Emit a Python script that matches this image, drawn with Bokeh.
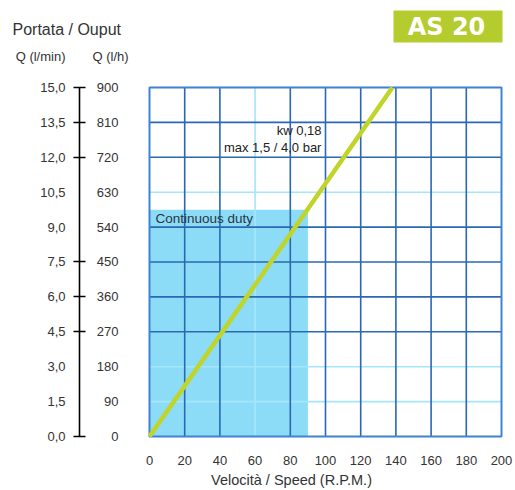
from bokeh.plotting import figure
from bokeh.models import Range1d, LinearAxis, FixedTicker
from bokeh.embed import file_html
from bokeh.resources import INLINE
from bokeh.core.properties import value

# ---------------- data ----------------
speed_ticks = [0, 20, 40, 60, 80, 100, 120, 140, 160, 180, 200]
flow_lmin_ticks = [0.0, 1.5, 3.0, 4.5, 6.0, 7.5, 9.0, 10.5, 12.0, 13.5, 15.0]
flow_lmin_labels = ["0,0", "1,5", "3,0", "4,5", "6,0", "7,5", "9,0", "10,5", "12,0", "13,5", "15,0"]
flow_lh_ticks = [0, 90, 180, 270, 360, 450, 540, 630, 720, 810, 900]
flow_lh_labels = ["0", "90", "180", "270", "360", "450", "540", "630", "720", "810", "900"]
scale_marks = [0.0, 4.5, 6.0, 7.5, 12.0, 13.5, 15.0]      # tick marks drawn on the scale bar
grid_speed_dark = [20, 40, 80, 100, 120, 140, 160, 180]
grid_speed_faint = [60]
grid_flow_dark = [4.5, 6.0, 7.5, 9.0, 12.0, 13.5]
grid_flow_faint = [1.5, 3.0, 10.5]
curve_speed = [0, 138]        # R.P.M.
curve_flow = [0.0, 15.0]      # l/min
duty_speed = [90]
duty_flow = [9.75]
speed_max = 200
flow_max = 15.0
LH_PER_LMIN = 60

FONT = "Liberation Sans"
TXT = "#333333"
GRID_DARK = "#2a68b4"
GRID_FAINT = "#a6e6fb"
BORDER = "#3d82d4"
W = 515

# ---------------- header strip ----------------
h = figure(width=W, height=70, output_backend="svg", toolbar_location=None,
           x_range=Range1d(0, W), y_range=Range1d(70, 0),
           x_axis_location=None, y_axis_location=None,
           min_border=0, min_border_left=0, min_border_right=0,
           min_border_top=0, min_border_bottom=0)
h.grid.visible = False
h.outline_line_color = None
h.background_fill_color = "white"
h.border_fill_color = "white"
h.text(x=[12], y=[29], text=["Portata / Ouput"], text_font=value(FONT),
       text_font_size="16px", text_color=TXT, text_align="left", text_baseline="middle")
h.text(x=[65], y=[56], text=["Q (l/min)"], text_font=value(FONT),
       text_font_size="13px", text_color=TXT, text_align="right", text_baseline="middle")
h.text(x=[92], y=[56], text=["Q (l/h)"], text_font=value(FONT),
       text_font_size="13px", text_color=TXT, text_align="left", text_baseline="middle")
h.quad(left=[393], right=[502], top=[10], bottom=[42], fill_color="#b5cc2e", line_color=None)
h.text(x=[446], y=[26.5], text=["AS 20"], text_font=value("DejaVu Sans"),
       text_font_size="24px", text_font_style="bold", text_color="white",
       text_align="center", text_baseline="middle")

# ---------------- main chart ----------------
PX_X = 1.76                # pixels per R.P.M.
PX_Y = 350 / 15            # pixels per l/min
p = figure(width=W, height=420, output_backend="svg", toolbar_location=None,
           x_range=Range1d(-70 / PX_X, speed_max + 2 / PX_X),
           y_range=Range1d(-9 / PX_Y, flow_max + 12 / PX_Y),
           x_axis_location="below", y_axis_location=None,
           min_border_left=79, min_border_right=12, min_border_top=5, min_border_bottom=44)
p.grid.visible = False
p.outline_line_color = None
p.background_fill_color = "white"
p.border_fill_color = "white"

# continuous duty area
p.quad(left=[0], right=duty_speed, bottom=[0], top=duty_flow,
       fill_color="#8cdcf8", line_color=None)

# grid
p.segment(x0=grid_speed_faint, x1=grid_speed_faint, y0=[0] * len(grid_speed_faint),
          y1=[flow_max] * len(grid_speed_faint), line_color=GRID_FAINT, line_width=1.6)
p.segment(x0=[0] * len(grid_flow_faint), x1=[speed_max] * len(grid_flow_faint),
          y0=grid_flow_faint, y1=grid_flow_faint, line_color=GRID_FAINT, line_width=1.6)
p.segment(x0=grid_speed_dark, x1=grid_speed_dark, y0=[0] * len(grid_speed_dark),
          y1=[flow_max] * len(grid_speed_dark), line_color=GRID_DARK, line_width=1.6)
p.segment(x0=[0] * len(grid_flow_dark), x1=[speed_max] * len(grid_flow_dark),
          y0=grid_flow_dark, y1=grid_flow_dark, line_color=GRID_DARK, line_width=1.6)
p.quad(left=[0], right=[speed_max], bottom=[0], top=[flow_max],
       fill_color=None, line_color=BORDER, line_width=2)

# performance curve
p.line(curve_speed, curve_flow, line_color="#c0d42a", line_width=4.5)

# l/h scale labels (same heights as l/min: 60 l/h = 1 l/min)
p.text(x=[-31 / PX_X] * len(flow_lh_ticks), y=[v / LH_PER_LMIN for v in flow_lh_ticks],
       text=flow_lh_labels, text_font=value(FONT), text_font_size="13px",
       text_color=TXT, text_align="right", text_baseline="middle")

# in-plot texts
p.text(x=[3.4], y=[9.35], text=["Continuous duty"], text_font=value(FONT),
       text_font_size="13.5px", text_color="#2a3640", text_baseline="middle", text_align="left")
p.text(x=[97.7, 97.7], y=[13.16, 12.43], text=["kw 0,18", "max 1,5 / 4,0 bar"],
       text_font=value(FONT), text_font_size="13px", text_color="#222222",
       text_baseline="middle", text_align="right")

# x axis
xa = p.xaxis[0]
xa.ticker = FixedTicker(ticks=speed_ticks)
xa.axis_line_color = None
xa.major_tick_line_color = None
xa.minor_tick_line_color = None
xa.major_tick_out = 0
xa.major_tick_in = 0
xa.major_label_standoff = 10
xa.major_label_text_font = FONT
xa.major_label_text_font_size = "13px"
xa.major_label_text_color = TXT
xa.axis_label = "Velocità / Speed (R.P.M.)"
xa.axis_label_text_font = FONT
xa.axis_label_text_font_size = "14.5px"
xa.axis_label_text_font_style = "normal"
xa.axis_label_text_color = TXT
xa.axis_label_standoff = 4

# l/min scale bar
ax_lmin = LinearAxis(ticker=FixedTicker(ticks=flow_lmin_ticks, minor_ticks=scale_marks),
                     bounds=(0, flow_max),
                     major_label_overrides={t: s for t, s in zip(flow_lmin_ticks, flow_lmin_labels)},
                     axis_line_color="black", axis_line_width=1.6,
                     major_tick_line_color=None, major_tick_out=6, major_tick_in=0,
                     minor_tick_line_color="black", minor_tick_line_width=1.6,
                     minor_tick_out=6, minor_tick_in=6,
                     major_label_standoff=8,
                     major_label_text_font=FONT, major_label_text_font_size="13px",
                     major_label_text_color=TXT)
p.add_layout(ax_lmin, "left")

open("out.html", "w").write(file_html([h, p], INLINE))
